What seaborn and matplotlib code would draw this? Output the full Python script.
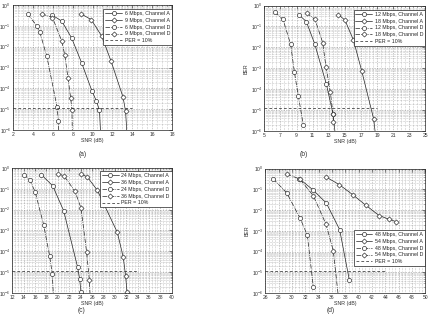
import numpy as np
import pandas as pd
import matplotlib
matplotlib.use("Agg")
import matplotlib.pyplot as plt
import seaborn as sns
from matplotlib.ticker import NullFormatter, AutoMinorLocator, FixedLocator, LogFormatterMathtext

# ---------------- data ----------------
# panel (a)
a_6A_snr = [5.93, 6.9, 7.9, 8.9, 9.93, 10.37, 10.7, 10.83]
a_6A_ber = [0.33, 0.17, 0.026, 1.7e-3, 7.8e-5, 2.6e-5, 9.1e-6, 5e-7]
a_9A_snr = [8.87, 9.87, 10.93, 11.87, 13.07, 13.33, 13.48]
a_9A_ber = [0.37, 0.2, 0.032, 2e-3, 3.8e-5, 7.9e-6, 5e-7]
a_6D_snr = [3.47, 4.4, 4.7, 5.4, 6.43, 6.57, 6.62]
a_6D_ber = [0.37, 0.1, 0.049, 3.5e-3, 1.3e-5, 2.8e-6, 5e-7]
a_9D_snr = [4.93, 5.97, 6.9, 7.2, 7.53, 7.8, 7.93, 7.98]
a_9D_ber = [0.37, 0.25, 0.019, 4.2e-3, 3.3e-4, 3.5e-5, 9.1e-6, 5e-7]
a_labels = ["6 Mbps, Channel A", "9 Mbps, Channel A", "6 Mbps, Channel D", "9 Mbps, Channel D"]
a_xticks = [2, 4, 6, 8, 10, 12, 14, 16, 18]
a_per_x = [2, 14]

# panel (b)
b_12A_snr = [9.27, 10.22, 11.25, 12.7, 13.55, 13.85]
b_12A_ber = [0.37, 0.17, 0.015, 1.8e-4, 6.3e-6, 5e-7]
b_18A_snr = [14.19, 15.02, 16.06, 17.09, 18.58, 18.85]
b_18A_ber = [0.37, 0.2, 0.023, 7.8e-4, 3.8e-6, 5e-7]
b_12D_snr = [6.33, 7.32, 8.27, 8.73, 9.22, 9.85]
b_12D_ber = [0.47, 0.22, 0.014, 6.9e-4, 4.9e-5, 1.9e-6]
b_18D_snr = [10.26, 11.29, 12.25, 12.66, 13.2, 13.53, 13.58]
b_18D_ber = [0.43, 0.22, 0.017, 1.2e-3, 7.4e-5, 6.8e-6, 2.7e-6]
b_labels = ["12 Mbps, Channel A", "18 Mbps, Channel A", "12 Mbps, Channel D", "18 Mbps, Channel D"]
b_xticks = [5, 7, 9, 11, 13, 15, 17, 19, 21, 23, 25]
b_per_x = [5, 19]

# panel (c)
c_24A_snr = [17.1, 19.09, 21.02, 23.48, 23.83, 24.07]
c_24A_ber = [0.48, 0.14, 8.9e-3, 1.7e-5, 4.6e-6, 1.1e-6]
c_36A_snr = [24.01, 25.18, 26.94, 30.45, 31.5, 31.9, 32.15]
c_36A_ber = [0.54, 0.37, 0.085, 8.1e-4, 5.1e-5, 6.6e-6, 1.1e-6]
c_24D_snr = [14.05, 15.1, 16.04, 17.5, 18.56, 19.03, 19.25]
c_24D_ber = [0.48, 0.26, 0.068, 1.9e-3, 6e-5, 7.9e-6, 5e-7]
c_36D_snr = [20.08, 21.14, 23.01, 24.07, 25.06, 25.53, 25.7]
c_36D_ber = [0.54, 0.4, 0.076, 0.012, 8.9e-5, 4.2e-6, 5e-7]
c_labels = ["24 Mbps, Channel A", "36 Mbps, Channel A", "24 Mbps, Channel D", "36 Mbps, Channel D"]
c_xticks = list(range(12, 41, 2))
c_per_x = [12, 34]

# panel (d)
d_48A_snr = [31.1, 33.1, 35.15, 37.15, 38.6]
d_48A_ber = [0.33, 0.098, 0.022, 1.15e-3, 4.3e-6]
d_54A_snr = [35.1, 37.1, 39.1, 41.1, 43.1, 44.6, 45.6]
d_54A_ber = [0.4, 0.17, 0.056, 0.017, 5.4e-3, 3.6e-3, 2.8e-3]
d_48D_snr = [27.2, 29.2, 31.2, 32.3, 33.2]
d_48D_ber = [0.32, 0.069, 4.2e-3, 6.3e-4, 2e-6]
d_54D_snr = [29.2, 31.15, 33.2, 35.1, 36.2, 37.0]
d_54D_ber = [0.55, 0.32, 0.05, 2.1e-3, 1.1e-4, 5e-7]
d_labels = ["48 Mbps, Channel A", "54 Mbps, Channel A", "48 Mbps, Channel D", "54 Mbps, Channel D"]
d_xticks = list(range(26, 51, 2))
d_per_x = [26, 44]

y_decades = [-6, -5, -4, -3, -2, -1, 0]
per_ber = 1.2e-5
per_label = "PER = 10%"
captions = ["(a)", "(b)", "(c)", "(d)"]

# ---------------- styling ----------------
sns.set_theme(style="white")
plt.rcParams["font.family"] = ["Liberation Sans", "DejaVu Sans"]
plt.rcParams["mathtext.fontset"] = "dejavusans"

fig = plt.figure(figsize=(4.33, 3.16), dpi=100)

W, H = 433.0, 316.0
def pos(l, r, t, b):
    return [l / W, 1 - b / H, (r - l) / W, (b - t) / H]

axes_px = [
    (13, 172, 5, 130),
    (264.3, 425.3, 5.5, 131),
    (12.3, 171.7, 168, 293),
    (265.3, 425.3, 168.7, 293),
]

panels = [
    ([(a_6A_snr, a_6A_ber), (a_9A_snr, a_9A_ber), (a_6D_snr, a_6D_ber), (a_9D_snr, a_9D_ber)], a_labels, a_xticks, a_per_x),
    ([(b_12A_snr, b_12A_ber), (b_18A_snr, b_18A_ber), (b_12D_snr, b_12D_ber), (b_18D_snr, b_18D_ber)], b_labels, b_xticks, b_per_x),
    ([(c_24A_snr, c_24A_ber), (c_36A_snr, c_36A_ber), (c_24D_snr, c_24D_ber), (c_36D_snr, c_36D_ber)], c_labels, c_xticks, c_per_x),
    ([(d_48A_snr, d_48A_ber), (d_54A_snr, d_54A_ber), (d_48D_snr, d_48D_ber), (d_54D_snr, d_54D_ber)], d_labels, d_xticks, d_per_x),
]

styles = [("-", "o"), ("-", "D"), ("-.", "o"), ("-.", "D")]
legend_anchor = [(1.0, 0.968), (1.0, 0.965), (1.0, 0.974), (1.0, 0.507)]
ylabels = [None, "BER", None, "BER"]
caption_px = [(83, 155), (304, 155), (81, 310), (331, 310)]

major_y = [10.0 ** d for d in y_decades]
minor_y = [m * 10.0 ** d for d in y_decades[:-1] for m in range(2, 10)]

line_col = "#222222"
for i, (series, labels, xticks, per_x) in enumerate(panels):
    ax = fig.add_axes(pos(*axes_px[i]))
    for (snr, ber), lab, (ls, mk) in zip(series, labels, styles):
        df = pd.DataFrame({"SNR": snr, "BER": ber})
        sns.lineplot(data=df, x="SNR", y="BER", ax=ax, color=line_col, lw=0.5,
                     linestyle=ls, marker=mk, markersize=3.0 if mk == "o" else 2.6,
                     markerfacecolor="white", markeredgecolor=line_col,
                     markeredgewidth=0.45, label=lab, sort=False, estimator=None)
    dfp = pd.DataFrame({"SNR": per_x, "BER": [per_ber] * len(per_x)})
    sns.lineplot(data=dfp, x="SNR", y="BER", ax=ax, color=line_col, lw=0.5,
                 linestyle=(0, (4, 3)), label=per_label, estimator=None)

    ax.set_yscale("log")
    ax.set_ylim(1e-6, 1)
    ax.set_xlim(xticks[0], xticks[-1])
    ax.xaxis.set_major_locator(FixedLocator(xticks))
    ax.xaxis.set_minor_locator(AutoMinorLocator(4))
    ax.yaxis.set_major_locator(FixedLocator(major_y))
    ax.yaxis.set_major_formatter(LogFormatterMathtext())
    ax.yaxis.set_minor_locator(FixedLocator(minor_y))
    ax.yaxis.set_minor_formatter(NullFormatter())
    ax.grid(True, which="major", ls=":", lw=0.45, color="#777777")
    ax.grid(True, which="minor", ls=":", lw=0.4, color="#999999")
    ax.set_axisbelow(True)
    ax.tick_params(which="both", direction="in", top=True, right=True,
                   width=0.4, colors="#222222", labelcolor="#333333")
    ax.tick_params(which="major", length=2, labelsize=3.6, pad=1.5)
    ax.tick_params(which="minor", length=1)
    for s in ax.spines.values():
        s.set_linewidth(0.5)
        s.set_color("#222222")
    ax.set_xlabel("SNR (dB)", fontsize=3.8, labelpad=1.0, color="#333333")
    if ylabels[i]:
        ax.set_ylabel(ylabels[i], fontsize=3.8, labelpad=1.5, color="#333333")
    else:
        ax.set_ylabel("")
    leg = ax.legend(loc="upper right", bbox_to_anchor=legend_anchor[i], borderaxespad=0,
                    fontsize=3.8, frameon=True, fancybox=False, edgecolor="#222222",
                    framealpha=1, borderpad=0.35, handlelength=3.2, handletextpad=0.5,
                    labelspacing=0.35)
    leg.get_frame().set_linewidth(0.5)
    cx, cy = caption_px[i]
    fig.text(cx / W, 1 - cy / H, captions[i], fontsize=4.8, ha="center", va="center",
             color="#333333")

fig.savefig("out.png", dpi=100, facecolor="white")
